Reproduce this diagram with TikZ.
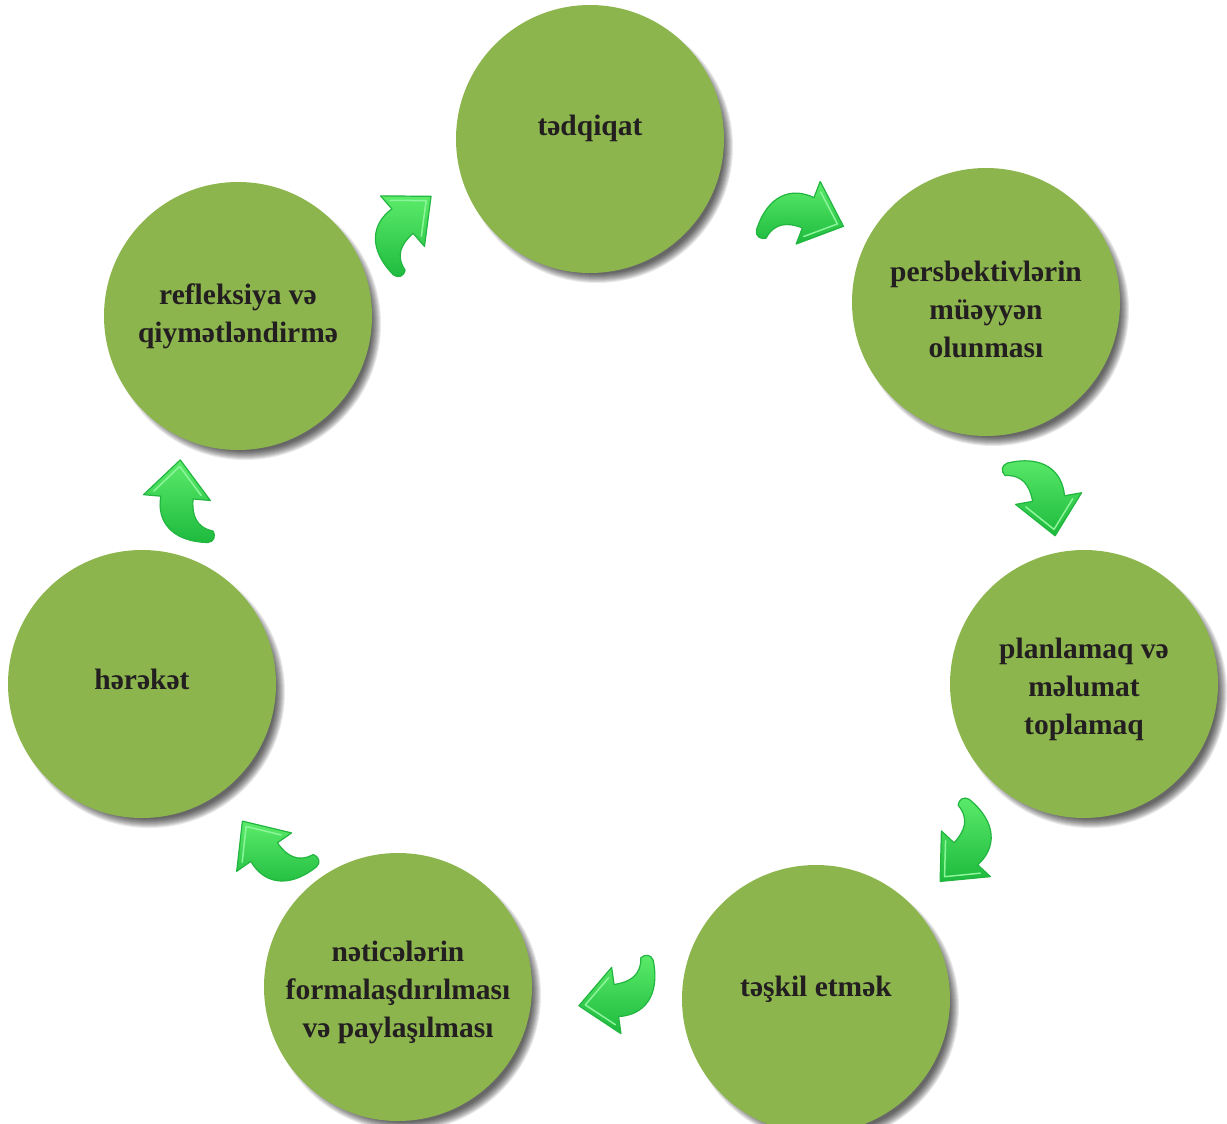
\documentclass[tikz,border=0pt]{standalone}
\usepackage{fontspec}
\setmainfont{Liberation Serif}
\definecolor{circfill}{HTML}{8DB54E}
\definecolor{txt}{HTML}{231F20}
\definecolor{arLight}{HTML}{5CEB6A}
\definecolor{arDark}{HTML}{1DBA3E}
\definecolor{arEdge}{HTML}{22B540}
\definecolor{arHi}{HTML}{8CF59A}
\tikzset{
  circ/.style={circle, fill=circfill, minimum size=268pt, inner sep=0pt},
  lbl/.style={align=center, text=txt, font=\fontsize{29.5}{38}\selectfont\bfseries},
  arrowbody/.style={top color=arLight, bottom color=arDark, draw=arEdge, line width=1.2pt, line join=round},
  arrowhi/.style={draw=arHi, line width=1.5pt, line join=round, line cap=round}
}
\newcommand\cyclearrow[3]{%
  \begin{scope}[shift={(#1,-#2)}, rotate=#3, scale=1.08, shift={(-3,-7)}]
    \path[arrowbody] (40,10) -- (5,41) -- (5,25)
      .. controls (-18,27) and (-36,12) .. (-34,-22)
      .. controls (-33,-28) and (-27,-29) .. (-23,-26)
      .. controls (-21,-10) and (-10,-5) .. (5,-5)
      -- (5,-21) -- cycle;
    \path[arrowhi] (34,10) -- (9,32) (9,-12) -- (34,10);
  \end{scope}}
\newcommand\circshadow[3]{%
  \foreach \k in {0,...,9}{
    \fill[black, opacity=0.085] (#1+7,-#2-8) circle ({#3+2-1.0*\k});
  }}
\begin{document}
\begin{tikzpicture}[x=1pt, y=1pt]
  \useasboundingbox (0,0) rectangle (1227,-1124);
  % shadows
  \circshadow{590}{139}{134}
  \circshadow{986}{302}{134}
  \circshadow{1084}{684}{134}
  \circshadow{816}{999}{134}
  \circshadow{398}{987}{134}
  \circshadow{142}{684}{134}
  \circshadow{238}{316}{134}
  % circles
  \node[circ] (c1) at (590,-139) {};
  \node[circ] (c2) at (986,-302) {};
  \node[circ] (c3) at (1084,-684) {};
  \node[circ] (c4) at (816,-999) {};
  \node[circ] (c5) at (398,-987) {};
  \node[circ] (c6) at (142,-684) {};
  \node[circ] (c7) at (238,-316) {};
  % labels
  \node[lbl] (t1) at (590,-128) {tədqiqat};
  \node[lbl] (t2) at (986,-309) {persbektivlərin\\müəyyən\\olunması};
  \node[lbl] (t3) at (1084,-689) {planlamaq və\\məlumat\\toplamaq};
  \node[lbl] (t4) at (816,-989) {təşkil etmək};
  \node[lbl] (t5) at (398,-992) {nəticələrin\\formalaşdırılması\\və paylaşılması};
  \node[lbl] (t6) at (142,-679) {hərəkət};
  \node[lbl] (t7) at (238,-316) {refleksiya və\\qiymətləndirmə};
  % arrows
  \cyclearrow{805}{215}{-21}
  \cyclearrow{1045}{497}{-80}
  \cyclearrow{965}{850}{-133}
  \cyclearrow{618}{997}{-172}
  \cyclearrow{268}{852}{125}
  \cyclearrow{180}{500}{85}
  \cyclearrow{403}{225}{41}
\end{tikzpicture}
\end{document}
